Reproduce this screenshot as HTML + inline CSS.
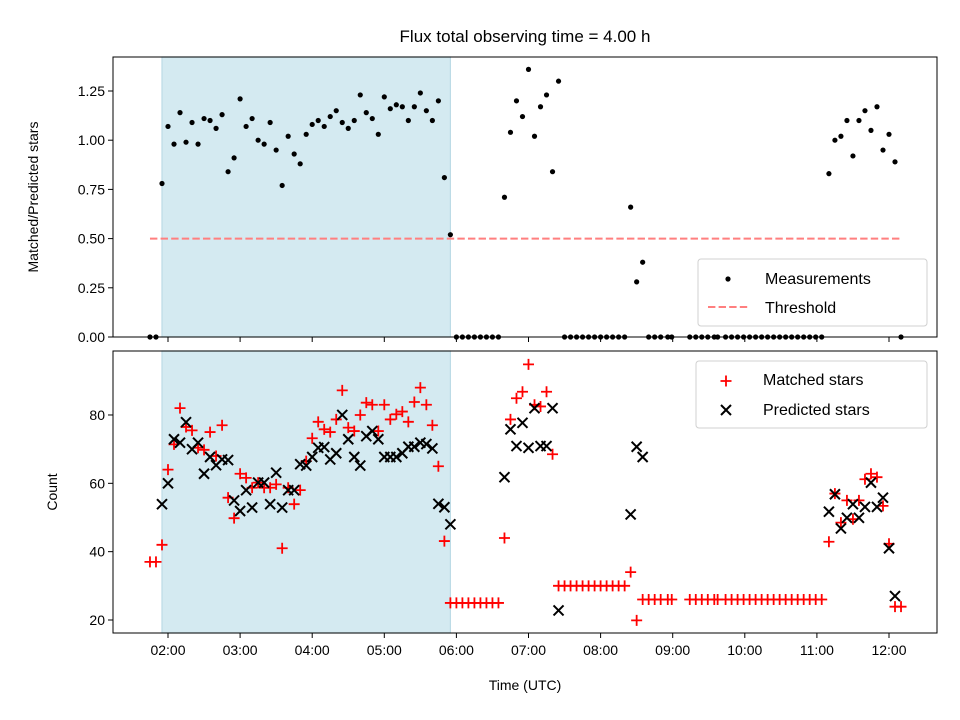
<!DOCTYPE html>
<html><head><meta charset="utf-8"><style>
body{margin:0;background:#fff;}
svg{display:block;font-family:"Liberation Sans","DejaVu Sans",sans-serif;}
</style></head><body>
<svg id="chart" width="960" height="720" viewBox="0 0 960 720" xmlns="http://www.w3.org/2000/svg">
<rect x="0" y="0" width="960" height="720" fill="#fff"/>
<text x="525" y="42" font-size="17" text-anchor="middle">Flux total observing time = 4.00 h</text>
<text transform="translate(38,197) rotate(-90)" font-size="14" text-anchor="middle">Matched/Predicted stars</text>
<text transform="translate(57,492) rotate(-90)" font-size="14" text-anchor="middle">Count</text>
<text x="525" y="690" font-size="14" text-anchor="middle">Time (UTC)</text>
<g id="topg"></g><g id="botg"></g>
</svg>
<script>
// times in minutes after midnight
const times=[105,110,115,120,125,130,135,140,145,150,155,160,165,170,175,180,185,190,195,200,205,210,215,220,225,230,235,240,245,250,255,260,265,270,275,280,285,290,295,300,305,310,315,320,325,330,335,340,345,350,355,
360,365,370,375,380,385,390,395,
400,405,410,415,420,425,430,435,440,445,
450,455,460,465,470,475,480,485,490,495,500,
505,510,515,520,525,530,535.9,539.2,
554.2,559.2,564.2,569.2,574.6,577.4,584,589,594,599,604,609,614,619,624,629,634,639,644,649,654,659,664,
670,675,680,685,690,695,700,705,710,715,720,725,730];
const ratio=[0,0,.78,1.07,.98,1.14,.99,1.09,.98,1.11,1.10,1.06,1.13,.84,.91,1.21,1.07,1.11,1.00,.98,1.09,.95,.77,1.02,.93,.88,1.03,1.08,1.10,1.07,1.12,1.15,1.09,1.06,1.10,1.23,1.14,1.11,1.03,1.22,1.16,1.18,1.17,1.10,1.17,1.24,1.15,1.10,1.20,.81,.52,
0,0,0,0,0,0,0,0,
.71,1.04,1.20,1.12,1.36,1.02,1.17,1.23,.84,1.30,
0,0,0,0,0,0,0,0,0,0,0,
.66,.28,.38,0,0,0,0,0,
0,0,0,0,0,0,0,0,0,0,0,0,0,0,0,0,0,0,0,0,0,0,0,
.83,1.00,1.02,1.10,.92,1.10,1.15,1.05,1.17,.95,1.03,.89,0];
const matched=[37,37,42,64,71.4,82,76.5,75.5,70.4,69.8,75,68,77,55.8,49.8,62.8,61.6,58.7,60.2,58.7,58.7,59.7,41,58.7,53.9,58,66.5,73.2,78,75.8,75,78.7,87.2,76.3,75.3,80,83.6,83,75.3,83,78.7,80.2,81,78,83.8,88,83,77,65,43.1,25,
25,25,25,25,25,25,25,25,
44,78.7,84.9,86.8,94.8,83,82.5,86.8,68.5,30,
30,30,30,30,30,30,30,30,30,30,30,
34,19.9,26,26,26,26,26,26,
26,26,26,26,26,26,26,26,26,26,26,26,26,26,26,26,26,26,26,26,26,26,26,
42.9,57,48.5,55,49.5,55,61.2,62.8,61.8,53.4,42.3,23.9,23.9];
const predicted=[null,null,53.9,60,72.9,71.9,77.9,70,71.9,62.8,67.7,65.3,67,66.8,55,51.9,58,52.9,60.2,60.2,53.9,63.1,52.9,58,58,65.6,65.2,67.7,70.4,70.6,67,68.8,80,72.9,67.7,65.2,73.8,75.3,72.9,67.7,67.7,67.7,68.8,70.7,70.7,71.9,71.5,70.2,54,53,48,
null,null,null,null,null,null,null,null,
61.8,75.8,70.9,77.7,70.4,82,70.9,70.9,82,22.8,
null,null,null,null,null,null,null,null,null,null,null,
50.9,70.7,67.7,null,null,null,null,null,
null,null,null,null,null,null,null,null,null,null,null,null,null,null,null,null,null,null,null,null,null,null,null,
51.7,56.8,46.8,49.9,53.9,49.9,53.1,60.2,53.1,55.8,41,27,null];
const threshold=[0.5];
const thresholdRange=[105,730];
const shadeRange=[115,355];
const xTicks=["02:00","03:00","04:00","05:00","06:00","07:00","08:00","09:00","10:00","11:00","12:00"];
const topTicks=[0,0.25,0.5,0.75,1.0,1.25];
const botTicks=[20,40,60,80];

const NS="http://www.w3.org/2000/svg";
const L=113,R=937;
const T1=57,B1=337,T2=351,B2=633;
function xs(m){return 168+(m-120)/60*72.1;}
function y1(v){return 337-v*196.8;}
function y2(v){return 620-(v-20)*3.417;}
function mk(parent,tag,attrs){const e=document.createElementNS(NS,tag);for(const k in attrs)e.setAttribute(k,attrs[k]);parent.appendChild(e);return e;}
const gTop=document.getElementById('topg'),gBot=document.getElementById('botg');

function frame(g,T,B,name){
  const s=mk(g,'rect',{x:xs(shadeRange[0]),y:T,width:xs(shadeRange[1])-xs(shadeRange[0]),height:B-T,fill:'#d4eaf1',stroke:'#bcdbe6','stroke-width':1.2});
  
  
}
frame(gTop,T1,B1,'top');frame(gBot,T2,B2,'bottom');

const th=mk(gTop,'line',{x1:xs(thresholdRange[0]),x2:xs(thresholdRange[1]),y1:y1(threshold[0]),y2:y1(threshold[0]),stroke:'#ff7f7f','stroke-width':2,'stroke-dasharray':'7.4,3.2'});



times.forEach((t,i)=>{
  if(ratio[i]===null)return;
  const c=mk(gTop,'circle',{cx:xs(t),cy:y1(ratio[i]),r:2.6,fill:'#000'});
  
  
});
times.forEach((t,i)=>{
  if(matched[i]===null)return;
  const x=xs(t),y=y2(matched[i]);
  const p=mk(gBot,'path',{d:`M${x-5.5},${y}H${x+5.5}M${x},${y-5.5}V${y+5.5}`,stroke:'#f00','stroke-width':1.8,fill:'none'});
  
  
});
times.forEach((t,i)=>{
  if(predicted[i]===null)return;
  const x=xs(t),y=y2(predicted[i]);
  const p=mk(gBot,'path',{d:`M${x-5},${y-5}L${x+5},${y+5}M${x-5},${y+5}L${x+5},${y-5}`,stroke:'#000','stroke-width':2,fill:'none'});
  
  
});

[[gTop,T1,B1,'top'],[gBot,T2,B2,'bottom']].forEach(([g,T,B,n])=>{
  const f=mk(g,'rect',{x:L,y:T,width:R-L,height:B-T,fill:'none',stroke:'#000','stroke-width':1});
  
  
  xTicks.forEach(lbl=>{
    const hm=lbl.split(':').map(Number);
    const x=xs(hm[0]*60+hm[1]);
    mk(g,'line',{x1:x,x2:x,y1:B,y2:B+5,stroke:'#000','stroke-width':1});
    if(n==='bottom'){
      const tx=mk(g,'text',{x:x,y:B+22,'font-size':14,'text-anchor':'middle'});
      tx.textContent=lbl;
      
      
    }
  });
});
topTicks.forEach(v=>{
  const y=y1(v);
  mk(gTop,'line',{x1:L-5,x2:L,y1:y,y2:y,stroke:'#000'});
  const tx=mk(gTop,'text',{x:L-8,y:y+5,'font-size':14,'text-anchor':'end'});
  tx.textContent=v.toFixed(2);
  
  
});
botTicks.forEach(v=>{
  const y=y2(v);
  mk(gBot,'line',{x1:L-5,x2:L,y1:y,y2:y,stroke:'#000'});
  const tx=mk(gBot,'text',{x:L-8,y:y+5,'font-size':14,'text-anchor':'end'});
  tx.textContent=String(v);
  
  
});

function legend(g,x,y,w,h,name){
  const r=mk(g,'rect',{x:x,y:y,width:w,height:h,rx:3,fill:'rgba(255,255,255,0.8)',stroke:'#d0d0d0'});
  
  
}
legend(gTop,698,259,229,67,'top-legend');
let c=mk(gTop,'circle',{cx:728,cy:279,r:2.6,fill:'#000'});


let t=mk(gTop,'text',{x:765,y:284,'font-size':16});t.textContent='Measurements';


let ln=mk(gTop,'line',{x1:708,x2:749,y1:307,y2:307,stroke:'#ff7f7f','stroke-width':2,'stroke-dasharray':'7.4,3.2'});


t=mk(gTop,'text',{x:765,y:313,'font-size':16});t.textContent='Threshold';



legend(gBot,696,361,231,67,'bottom-legend');
let p=mk(gBot,'path',{d:'M720.5,381H731.5M726,375.5V386.5',stroke:'#f00','stroke-width':1.8});


t=mk(gBot,'text',{x:763,y:385,'font-size':16});t.textContent='Matched stars';


p=mk(gBot,'path',{d:'M721,405L731,415M721,415L731,405',stroke:'#000','stroke-width':2});


t=mk(gBot,'text',{x:763,y:415,'font-size':16});t.textContent='Predicted stars';


</script>
</body></html>
